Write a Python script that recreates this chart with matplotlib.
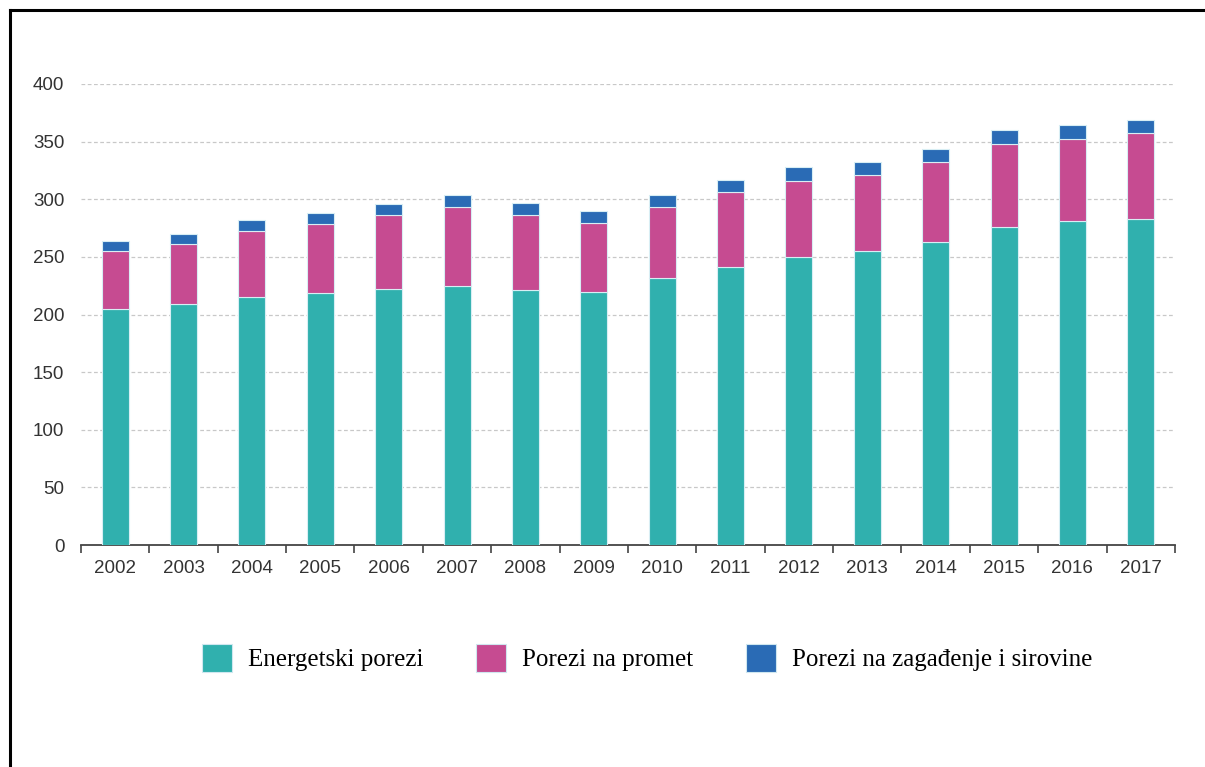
import matplotlib
matplotlib.use("Agg")
import matplotlib.pyplot as plt
from matplotlib.patches import Patch
from matplotlib.lines import Line2D
import numpy as np

years = ["2002", "2003", "2004", "2005", "2006", "2007", "2008", "2009",
         "2010", "2011", "2012", "2013", "2014", "2015", "2016", "2017"]
energetski = [204.5, 209, 215, 218.4, 222, 224.5, 221, 219.8,
              231.4, 241, 250.2, 254.8, 263.2, 276, 280.8, 283.1]
promet = [50.5, 52, 57.5, 60, 64.6, 69, 65.6, 60,
          62, 65.6, 65.8, 66, 69.1, 71.6, 71.5, 74.1]
zagadjenje = [9, 9, 9.2, 9.3, 9.4, 10.5, 10.4, 10.3,
              10.5, 10.5, 11.7, 11.5, 11.6, 12.8, 11.9, 11.6]

labels = ["Energetski porezi", "Porezi na promet", "Porezi na zagađenje i sirovine"]
colors = ["#30B0AE", "#C64B91", "#2A6BB5"]

plt.rcParams["font.family"] = ["Liberation Sans", "DejaVu Sans"]

fig = plt.figure(figsize=(12.05, 7.67), dpi=100)
ax = fig.add_axes([0.0672, 0.2894, 0.9079, 0.6011])

x = np.arange(len(years))
w = 0.395
edge = "#d8eef4"
b1 = np.array(energetski)
b2 = b1 + np.array(promet)
ax.bar(x, energetski, w, color=colors[0], edgecolor=edge, linewidth=0.8, zorder=3)
ax.bar(x, promet, w, bottom=b1, color=colors[1], edgecolor=edge, linewidth=0.8, zorder=3)
ax.bar(x, zagadjenje, w, bottom=b2, color=colors[2], edgecolor=edge, linewidth=0.8, zorder=3)

ax.set_xlim(-0.5, len(years) - 0.5)
ax.set_ylim(0, 400)
ax.set_yticks(range(0, 401, 50))
ax.set_xticks(x)
ax.set_xticklabels(years)
ax.set_xticks(np.arange(-0.5, len(years), 1), minor=True)
ax.tick_params(axis="x", which="major", length=0, pad=11, labelsize=13.5, labelcolor="#333333")
ax.tick_params(axis="x", which="minor", length=6, width=1.2, color="#444444", direction="out")
ax.tick_params(axis="y", length=0, pad=12, labelsize=13.5, labelcolor="#333333")

for v in range(50, 401, 50):
    ax.axhline(v, color="#c8c8c8", linestyle=(0, (3, 2)), linewidth=0.9, zorder=1)

for s in ["top", "right", "left"]:
    ax.spines[s].set_visible(False)
ax.spines["bottom"].set_color("#444444")
ax.spines["bottom"].set_linewidth(1.3)

handles = [Patch(facecolor=c, edgecolor="#cfe7ef", linewidth=0.8) for c in colors]
fig.legend(handles, labels, loc="center", bbox_to_anchor=(0.537, 0.142), ncol=3,
           frameon=False, handlelength=1.2, handleheight=1.3, handletextpad=0.65,
           columnspacing=2.1,
           prop={"family": ["Liberation Serif"], "size": 18})

# okvir slike (gore i lijevo)
fig.add_artist(Line2D([0.0083, 0.0083], [0.0, 0.987], transform=fig.transFigure,
                      color="black", linewidth=2.2))
fig.add_artist(Line2D([0.0083, 1.0], [0.987, 0.987], transform=fig.transFigure,
                      color="black", linewidth=2.2))

fig.savefig("out.png", dpi=100)
